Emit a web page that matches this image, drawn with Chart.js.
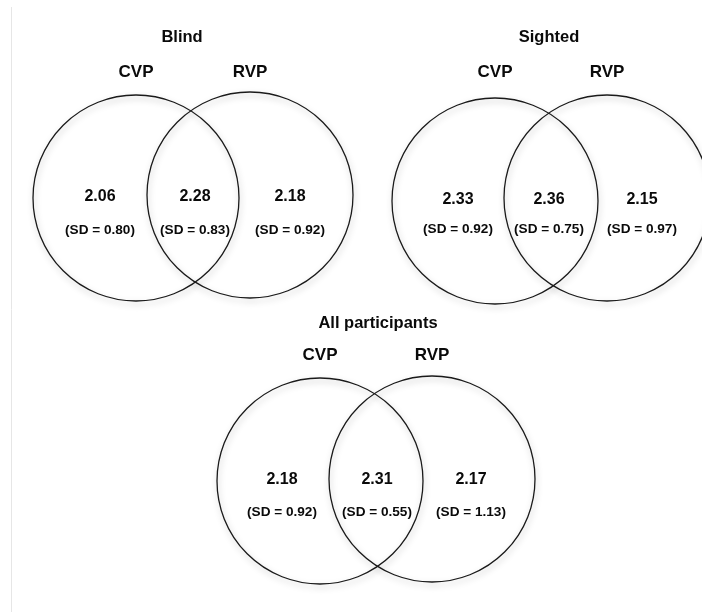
<!DOCTYPE html>
<html>
<head>
<meta charset="utf-8">
<script src="https://cdn.jsdelivr.net/npm/chart.js@4"></script>
<style>
  html, body { margin: 0; padding: 0; background: #fff; }
  #wrap { width: 702px; height: 612px; }
</style>
</head>
<body>
<div id="wrap"><canvas id="venn"></canvas></div>
<script>
// Data
const groups = ['Blind', 'Sighted', 'All participants'];
const sets = ['CVP', 'RVP'];
const meanCVP = [2.06, 2.33, 2.18];
const meanBoth = [2.28, 2.36, 2.31];
const meanRVP = [2.18, 2.15, 2.17];
const sdCVP = [0.80, 0.92, 0.92];
const sdBoth = [0.83, 0.75, 0.55];
const sdRVP = [0.92, 0.97, 1.13];

// Layout (in scale units, 1 unit = 1 px)
const circleR = 103;
const groupLayout = [
    { title: [182, 37], setY: 72, circles: [[136, 198], [250, 195]], textX: [100, 195, 290], meanY: 197, sdY: 230 },
    { title: [549, 37], setY: 72, circles: [[495, 201], [607, 198]], textX: [458, 549, 642], meanY: 200, sdY: 229 },
    { title: [378, 323], setY: 355, circles: [[320, 481], [432, 479]], textX: [282, 377, 471], meanY: 480, sdY: 512 }
];

const FONT = '"Liberation Sans", Arial, sans-serif';

function circlePoints() {
    const pts = [];
    groupLayout.forEach(g => {
        g.circles.forEach(c => pts.push({ x: c[0], y: c[1], r: circleR }));
    });
    return pts;
}

// Page edge line + soft shadow under the circle outlines
const shadowPlugin = {
    id: 'shadow',
    beforeDraw(chart) {
        const ctx = chart.ctx;
        ctx.save();
        ctx.strokeStyle = '#e6e6e6';
        ctx.lineWidth = 1;
        ctx.beginPath();
        ctx.moveTo(11.5, 7);
        ctx.lineTo(11.5, 612);
        ctx.stroke();
        ctx.restore();
    },
    beforeDatasetsDraw(chart) {
        const ctx = chart.ctx;
        ctx.save();
        ctx.shadowColor = 'rgba(0,0,0,0.28)';
        ctx.shadowBlur = 6;
        ctx.shadowOffsetX = 1;
        ctx.shadowOffsetY = 3;
    },
    afterDatasetsDraw(chart) {
        chart.ctx.restore();
    }
};

// Text labels placed through the scales
const labelPlugin = {
    id: 'vennLabels',
    afterDraw(chart) {
        const ctx = chart.ctx;
        const xs = chart.scales.x;
        const ys = chart.scales.y;
        const px = v => xs.getPixelForValue(v);
        const py = v => ys.getPixelForValue(v);

        function text(str, x, y, size) {
            ctx.font = 'bold ' + size + 'px ' + FONT;
            ctx.fillText(str, px(x), py(y));
        }

        ctx.save();
        ctx.fillStyle = '#0a0a0a';
        ctx.textAlign = 'center';
        ctx.textBaseline = 'middle';

        groups.forEach((name, i) => {
            const g = groupLayout[i];
            text(name, g.title[0], g.title[1], 16.5);
            sets.forEach((s, j) => text(s, g.circles[j][0], g.setY, 17));

            const means = [meanCVP[i], meanBoth[i], meanRVP[i]];
            const sds = [sdCVP[i], sdBoth[i], sdRVP[i]];
            means.forEach((m, k) => {
                text(m.toFixed(2), g.textX[k], g.meanY, 16);
                text('(SD = ' + sds[k].toFixed(2) + ')', g.textX[k], g.sdY, 13.6);
            });
        });
        ctx.restore();
    }
};

new Chart(document.getElementById('venn'), {
    type: 'bubble',
    data: {
        datasets: [{
            data: circlePoints(),
            backgroundColor: 'rgba(0,0,0,0)',
            borderColor: '#1a1a1a',
            borderWidth: 1.3,
            clip: false
        }]
    },
    options: {
        responsive: true,
        maintainAspectRatio: false,
        animation: false,
        events: [],
        layout: { padding: 0, autoPadding: false },
        scales: {
            x: { type: 'linear', min: 0, max: 702, display: false },
            y: { type: 'linear', min: 0, max: 612, reverse: true, display: false }
        },
        plugins: {
            legend: { display: false },
            tooltip: { enabled: false }
        }
    },
    plugins: [shadowPlugin, labelPlugin]
});
</script>
</body>
</html>
